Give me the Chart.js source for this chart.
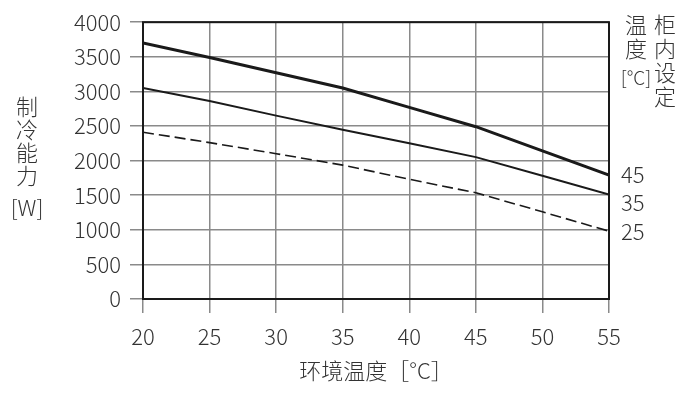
<!DOCTYPE html>
<html>
<head>
<meta charset="utf-8">
<script src="https://cdn.jsdelivr.net/npm/chart.js@4/dist/chart.umd.min.js"></script>
<style>
  html, body { margin: 0; padding: 0; background: #fff; }
  #wrap { width: 685px; height: 394px; }
</style>
</head>
<body>
<div id="wrap"><canvas id="c"></canvas></div>
<script>
// ambient temperature (°C)
const ambientTemps = [20, 25, 30, 35, 40, 45, 50, 55];
// cooling capacity (W) per cabinet set temperature
const setTemps = ['45', '35', '25'];
const cap45 = [3700, 3490, 3270, 3050, 2770, 2490, 2140, 1790];
const cap35 = [3050, 2860, 2650, 2445, 2250, 2050, 1780, 1510];
const cap25 = [2410, 2260, 2100, 1935, 1730, 1535, 1260, 980];
const yTicks = [0, 500, 1000, 1500, 2000, 2500, 3000, 3500, 4000];

const FONT = '"Noto Sans CJK SC", "Noto Sans CJK JP", sans-serif';
const TXT = '#333';

function pts(vals) {
    return ambientTemps.map((t, i) => ({ x: t, y: vals[i] }));
}

// frame + side texts
const decor = {
    id: 'decor',
    beforeDatasetsDraw(chart) {
        const a = chart.chartArea, ctx = chart.ctx;
        ctx.save();
        ctx.strokeStyle = '#1a1a1a';
        ctx.lineWidth = 2;
        ctx.strokeRect(a.left, a.top, a.right - a.left, a.bottom - a.top);
        ctx.restore();
    },
    afterDraw(chart) {
        const ctx = chart.ctx, ys = chart.scales.y, a = chart.chartArea;
        ctx.save();
        ctx.fillStyle = TXT;
        ctx.textAlign = 'center';
        ctx.textBaseline = 'middle';
        ctx.font = '300 22px ' + FONT;
        // y axis title, vertical
        ['制', '冷', '能', '力'].forEach((ch, i) => ctx.fillText(ch, 27, 107 + i * 23));
        ctx.fillText('[W]', 27, 208);
        // right legend title
        ['柜', '内', '设', '定'].forEach((ch, i) => ctx.fillText(ch, 665, 25 + i * 24));
        ['温', '度'].forEach((ch, i) => ctx.fillText(ch, 636, 25 + i * 24));
        ctx.font = '300 19px ' + FONT;
        ctx.fillText('[°C]', 636, 78);
        // line-end labels
        ctx.font = '300 22px ' + FONT;
        ctx.textAlign = 'left';
        const ends = [cap45, cap35, cap25];
        const nudge = [0, 8, 0];
        setTemps.forEach((s, i) => {
            const v = ends[i][ends[i].length - 1];
            ctx.fillText(s, a.right + 12, ys.getPixelForValue(v) + nudge[i]);
        });
        ctx.restore();
    }
};

new Chart(document.getElementById('c'), {
    type: 'line',
    data: {
        datasets: [
            { label: '45', data: pts(cap45), borderColor: '#1a1a1a', borderWidth: 3 },
            { label: '35', data: pts(cap35), borderColor: '#1a1a1a', borderWidth: 2 },
            { label: '25', data: pts(cap25), borderColor: '#1a1a1a', borderWidth: 1.6, borderDash: [11, 5] }
        ]
    },
    options: {
        responsive: true,
        maintainAspectRatio: false,
        animation: false,
        layout: { padding: { left: 0, right: 76, top: 15, bottom: 0 } },
        elements: { point: { radius: 0 }, line: { tension: 0, fill: false } },
        plugins: { legend: { display: false }, tooltip: { enabled: false } },
        scales: {
            x: {
                type: 'linear',
                min: 20, max: 55,
                afterBuildTicks(s) { s.ticks = ambientTemps.map(v => ({ value: v })); },
                afterFit(s) { s.height = 95; },
                grid: { color: '#8a8a8a', lineWidth: 1.5, tickLength: 14 },
                border: { display: false },
                ticks: {
                    color: TXT, font: { family: FONT, size: 22, weight: 300 }, padding: 10, maxRotation: 0,
                    callback: v => String(v)
                },
                title: {
                    display: true,
                    text: '环境温度［°C］',
                    color: TXT,
                    font: { family: FONT, size: 22, weight: 300 },
                    padding: { top: 0, bottom: 10 }
                }
            },
            y: {
                min: 0, max: 4000,
                afterBuildTicks(s) { s.ticks = yTicks.map(v => ({ value: v })); },
                afterFit(s) { s.width = 143; },
                grid: { color: '#8a8a8a', lineWidth: 1.5, tickLength: 13 },
                border: { display: false },
                ticks: {
                    color: TXT, font: { family: FONT, size: 22, weight: 300 }, padding: 9,
                    callback: v => String(v)
                }
            }
        }
    },
    plugins: [decor]
});
</script>
</body>
</html>
